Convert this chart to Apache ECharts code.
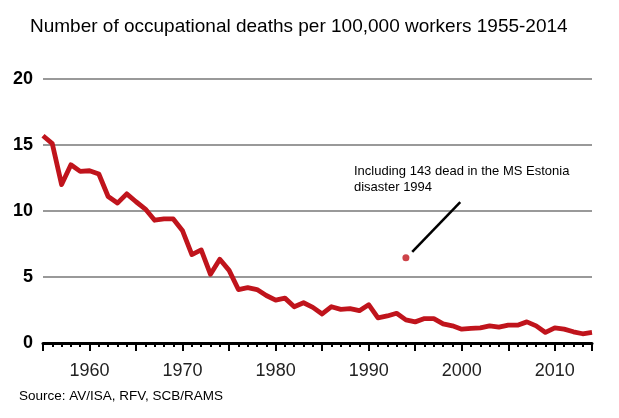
<!DOCTYPE html>
<html>
<head>
<meta charset="utf-8">
<script src="https://cdn.jsdelivr.net/npm/echarts@6/dist/echarts.min.js"></script>
<style>html,body{margin:0;padding:0;background:#fff}#c{width:619px;height:418px}</style>
</head>
<body>
<div id="c"></div>
<script>
const years = [];
for (let y = 1955; y <= 2014; y++) years.push(y);
const deaths = [
  15.7, 15.1, 12.0, 13.5, 13.0, 13.05, 12.8, 11.1, 10.6, 11.3,
  10.7, 10.15, 9.3, 9.4, 9.4, 8.5, 6.7, 7.05, 5.2, 6.35,
  5.5, 4.05, 4.2, 4.05, 3.6, 3.25, 3.4, 2.75, 3.05, 2.7,
  2.2, 2.75, 2.55, 2.6, 2.45, 2.9, 1.9, 2.05, 2.25, 1.75,
  1.6, 1.85, 1.85, 1.45, 1.3, 1.05, 1.1, 1.15, 1.3, 1.2,
  1.35, 1.35, 1.6, 1.3, 0.8, 1.15, 1.05, 0.85, 0.7, 0.8
];
const estoniaPoint = [1994, 6.45];
const yTicks = [0, 5, 10, 15, 20];
const xTickLabels = [1960, 1970, 1980, 1990, 2000, 2010];

const RED = '#c0141c';
const chart = echarts.init(document.getElementById('c'), null, {renderer: 'canvas'});
chart.setOption({
  animation: false,
  title: {
    text: 'Number of occupational deaths per 100,000 workers 1955-2014',
    left: 25, top: 12,
    textStyle: {fontFamily: 'Liberation Sans, Arial', fontSize: 19, fontWeight: 'normal', color: '#000'}
  },
  grid: {left: 43, right: 27, top: 79, bottom: 75, containLabel: false},
  xAxis: {
    type: 'value', min: 1955, max: 2014, interval: 5,
    axisLine: {show: true, lineStyle: {color: '#000', width: 3}},
    axisTick: {show: true, length: 8, lineStyle: {color: '#000', width: 2}},
    minorTick: {show: true, splitNumber: 5, length: 4, lineStyle: {color: '#000', width: 2}},
    splitLine: {show: false},
    axisLabel: {
      margin: 19, color: '#222', fontSize: 18, fontFamily: 'Liberation Sans, Arial',
      formatter: v => xTickLabels.indexOf(v) >= 0 ? String(v) : ''
    }
  },
  yAxis: {
    type: 'value', min: 0, max: 20, interval: 5,
    axisLine: {show: false}, axisTick: {show: false},
    splitLine: {show: true, lineStyle: {color: '#999', width: 2}},
    axisLabel: {
      margin: 10, color: '#000', fontSize: 18, fontWeight: 'bold', fontFamily: 'Liberation Sans, Arial',
      formatter: v => yTicks.indexOf(v) >= 0 ? String(v) : ''
    }
  },
  series: [
    {
      type: 'line', data: years.map((y, i) => [y, deaths[i]]),
      showSymbol: false, smooth: false,
      lineStyle: {color: RED, width: 4.8, join: 'round'},
      z: 3
    },
    {
      type: 'scatter', data: [estoniaPoint], symbolSize: 7,
      itemStyle: {color: RED},
      markLine: {
        silent: true, symbol: ['none', 'none'],
        lineStyle: {color: '#000', width: 2.5, type: 'solid'},
        label: {show: false},
        data: [[{coord: [1994.68, 6.9]}, {coord: [1999.84, 10.68]}]]
      }
    }
  ],
  graphic: [
    {type: 'text', left: 354, top: 163, style: {
      text: 'Including 143 dead in the MS Estonia\ndisaster 1994',
      fontFamily: 'Liberation Sans, Arial', fontSize: 13, lineHeight: 16, fill: '#000'}},
    {type: 'text', left: 19, top: 389, style: {
      text: 'Source: AV/ISA, RFV, SCB/RAMS',
      fontFamily: 'Liberation Sans, Arial', fontSize: 13.5, fill: '#000'}}
  ]
});
</script>
</body>
</html>
